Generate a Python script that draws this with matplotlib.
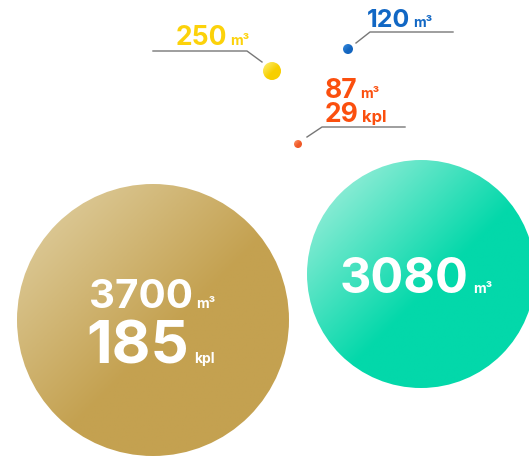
import numpy as np
import matplotlib.pyplot as plt
from matplotlib.patches import Circle
from matplotlib.colors import to_rgb

# valores del grafico
valores = ["3700", "3080", "250", "120", "87"]
unidades = ["m³", "m³", "m³", "m³", "m³"]
kpl_valores = {"3700": "185", "87": "29"}

# posicion (px) y radio de cada burbuja
centros = [(153, 320), (421, 274), (272, 71), (348, 49), (298, 144)]
radios = [136, 114, 9, 5, 4]
colores = [("#e2d3a8", "#c4a150"), ("#b4f2e2", "#03d8aa"),
           ("#fff27a", "#f7cf00"), ("#3a8ee0", "#1466c0"), ("#ff9a70", "#f05a28")]

fig = plt.figure(figsize=(5.29, 4.59), dpi=100)
ax = fig.add_axes([0, 0, 1, 1])
ax.set_xlim(0, 529)
ax.set_ylim(459, 0)
ax.axis("off")

def burbuja(c, r, c1, c2, fin=0.55):
    n = 200
    xs = np.linspace(-1, 1, n)
    X, Y = np.meshgrid(xs, xs)
    t = np.clip(((X + Y) / 2 + 1) / (2 * fin), 0, 1)
    a, b = np.array(to_rgb(c1)), np.array(to_rgb(c2))
    img = a[None, None, :] * (1 - t[..., None]) + b[None, None, :] * t[..., None]
    im = ax.imshow(img, extent=(c[0] - r, c[0] + r, c[1] + r, c[1] - r), zorder=1)
    p = Circle(c, r, transform=ax.transData, facecolor="none", edgecolor="none")
    ax.add_patch(p)
    im.set_clip_path(p)

for c, r, col in zip(centros, radios, colores):
    burbuja(c, r, col[0], col[1])
ax.set_xlim(0, 529)
ax.set_ylim(459, 0)

fuente = "Inter"
# lineas guia
gris = "#777777"
ax.plot([153, 247, 262], [51, 51, 62], color=gris, lw=1)
ax.plot([356, 370, 453], [43, 32, 32], color=gris, lw=1)
ax.plot([307, 322, 405], [137, 127, 127], color=gris, lw=1)

def etiqueta(x, y, num, uni, size, usize, color, gap=3):
    ax.text(x, y, num, ha="right", va="baseline", fontsize=size, color=color,
            fontweight="bold", family=fuente, zorder=3)
    ax.text(x + gap, y, uni, ha="left", va="baseline", fontsize=usize, color=color,
            fontweight="bold", family=fuente, zorder=3)

blanco = "white"
etiqueta(193, 308, valores[0], unidades[0], 29, 10, blanco)
etiqueta(189, 363, kpl_valores["3700"], "kpl", 43, 10, blanco, gap=5)
etiqueta(469, 293, valores[1], unidades[1], 35, 10, blanco, gap=4)
etiqueta(227, 45, valores[2], unidades[2], 19, 10, "#fcd20a")
etiqueta(410, 27, valores[3], unidades[3], 18, 10, "#1167c4")
etiqueta(357, 98, valores[4], unidades[4], 19, 10, "#fb4f0e")
etiqueta(358, 122, kpl_valores["87"], "kpl", 19, 12, "#fb4f0e", gap=4)

fig.savefig("out.png", dpi=100)
